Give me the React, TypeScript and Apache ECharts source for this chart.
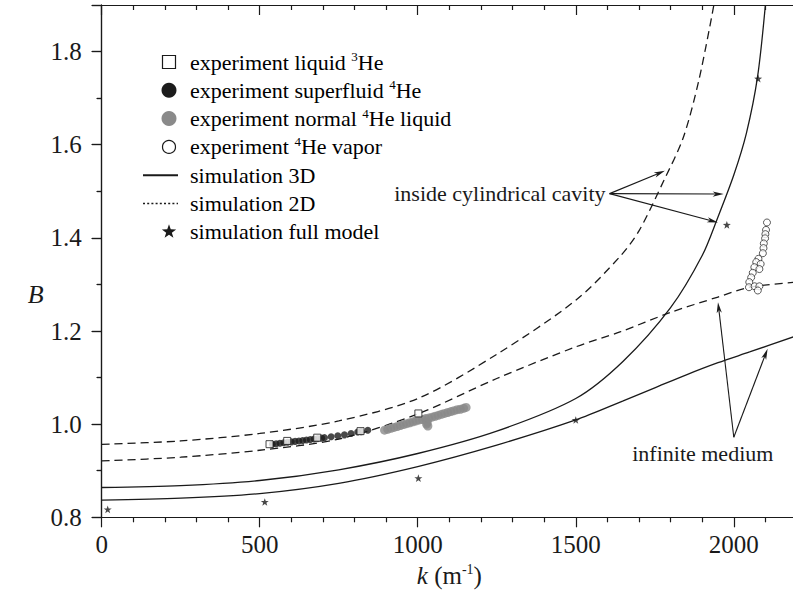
import React, { useEffect, useRef } from 'react';
import * as echarts from 'echarts';

// ---------- data ----------
const kInterval = 500;
const bInterval = 0.2;

// simulation 3D, inside cylindrical cavity (solid, steep)
const sim3DCavity: [number, number][] = [
  [0, 0.864], [250, 0.868], [500, 0.879], [750, 0.902], [1000, 0.937], [1250, 0.985],
  [1500, 1.055], [1650, 1.135], [1800, 1.25], [1900, 1.362], [1950, 1.445], [2000, 1.535],
  [2040, 1.625], [2075, 1.745], [2100, 1.9],
];
// simulation 3D, infinite medium (solid, lower)
const sim3DInfinite: [number, number][] = [
  [0, 0.837], [250, 0.841], [500, 0.851], [750, 0.873], [1000, 0.909], [1250, 0.955],
  [1500, 1.009], [1650, 1.05], [1750, 1.078], [1850, 1.106], [1950, 1.132], [2050, 1.155], [2200, 1.19],
];
// simulation 2D, inside cylindrical cavity (dashed, steep)
const sim2DCavity: [number, number][] = [
  [0, 0.9565], [250, 0.964], [500, 0.98], [750, 1.007], [1000, 1.055], [1250, 1.15],
  [1500, 1.266], [1640, 1.36], [1700, 1.415], [1780, 1.525], [1840, 1.615], [1890, 1.74], [1937, 1.9],
];
// simulation 2D, infinite medium (dashed, lower)
const sim2DInfinite: [number, number][] = [
  [0, 0.921], [250, 0.929], [500, 0.944], [750, 0.968], [1000, 1.022], [1250, 1.098],
  [1500, 1.166], [1640, 1.198], [1800, 1.24], [1950, 1.273], [2050, 1.294], [2200, 1.305],
];
const fullModel: [number, number][] = [
  [19, 0.817], [516, 0.833], [1002, 0.884], [1500, 1.009], [1978, 1.428], [2077, 1.742],
];
const liquid3He: [number, number][] = [
  [531, 0.957], [587, 0.964], [682, 0.971], [819, 0.985], [1002, 1.023],
];
const superfluid4He: [number, number][] = [
  [540, 0.957], [552, 0.958], [564, 0.959], [576, 0.96], [588, 0.961], [600, 0.962], [612, 0.963],
  [624, 0.964], [636, 0.965], [648, 0.966], [660, 0.967], [672, 0.968], [684, 0.969], [696, 0.97],
  [705, 0.971], [726, 0.973], [747, 0.975], [768, 0.977], [789, 0.98], [810, 0.983], [821, 0.984], [842, 0.987],
];
const normal4He: [number, number][] = [
  [895, 0.987], [905, 0.989], [915, 0.991], [925, 0.993], [935, 0.995], [945, 0.997], [955, 0.999],
  [965, 1.001], [975, 1.003], [985, 1.005], [995, 1.007], [1005, 1.009], [1015, 1.01], [1025, 1.012],
  [1028, 1.0], [1032, 0.996], [1030, 1.004], [1035, 1.013], [1045, 1.015], [1055, 1.017], [1065, 1.019],
  [1075, 1.021], [1085, 1.023], [1095, 1.025], [1105, 1.027], [1115, 1.029], [1125, 1.031], [1135, 1.032],
  [1145, 1.034], [1153, 1.036],
];
const vapor4He: [number, number][] = [
  [2105, 1.433], [2102, 1.417], [2100, 1.408], [2099, 1.399], [2095, 1.388], [2094, 1.378], [2092, 1.367],
  [2078, 1.355], [2071, 1.348], [2085, 1.344], [2065, 1.337], [2081, 1.333], [2060, 1.325], [2055, 1.315],
  [2049, 1.305], [2048, 1.294], [2066, 1.296], [2081, 1.296], [2076, 1.287],
];

// annotation arrows in data coordinates: [fromK, fromB, toK, toB]
const cavityArrows: number[][] = [
  [1607, 1.495, 1782, 1.544], [1607, 1.495, 1968, 1.494], [1607, 1.495, 1950, 1.433],
];
const infiniteArrows: number[][] = [
  [2000, 0.972, 1950, 1.262], [2000, 0.972, 2107, 1.162],
];

const legendRows = [
  { kind: 'square', text: '{a|experiment liquid }{s|3}{a|He}' },
  { kind: 'black', text: '{a|experiment superfluid }{s|4}{a|He}' },
  { kind: 'gray', text: '{a|experiment normal }{s|4}{a|He liquid}' },
  { kind: 'open', text: '{a|experiment }{s|4}{a|He vapor}' },
  { kind: 'line', text: '{a|simulation 3D}' },
  { kind: 'dotted', text: '{a|simulation 2D}' },
  { kind: 'star', text: '{a|simulation full model}' },
];

// ---------- styles ----------
const FONT = 'Liberation Serif';
const INK = '#1a1a1a';
const K_MIN = 0, K_MAX = 2200, B_MIN = 0.8, B_MAX = 1.9;
const STAR = 'path://M0,-10 L2.35,-3.24 L9.51,-3.09 L3.8,1.24 L5.88,8.09 L0,4 L-5.88,8.09 L-3.8,1.24 L-9.51,-3.09 L-2.35,-3.24 Z';
const rich = {
  a: { fontFamily: FONT, fontSize: 22, color: INK, lineHeight: 24 },
  s: { fontFamily: FONT, fontSize: 13, color: INK, lineHeight: 13, verticalAlign: 'top' },
};

function starPoints(cx: number, cy: number, R: number, r: number) {
  const pts: number[][] = [];
  for (let i = 0; i < 10; i++) {
    const ang = -Math.PI / 2 + (i * Math.PI) / 5;
    const rad = i % 2 === 0 ? R : r;
    pts.push([cx + rad * Math.cos(ang), cy + rad * Math.sin(ang)]);
  }
  return pts;
}

function arrowGraphics(p0: number[], p1: number[]) {
  const dx = p1[0] - p0[0];
  const dy = p1[1] - p0[1];
  const len = Math.hypot(dx, dy);
  const ux = dx / len, uy = dy / len;
  const nx = -uy, ny = ux;
  const L = 11, w = 2.6, notch = 3;
  const base = [p1[0] - L * ux, p1[1] - L * uy];
  return [
    { type: 'line', shape: { x1: p0[0], y1: p0[1], x2: p1[0] - 5 * ux, y2: p1[1] - 5 * uy }, style: { stroke: INK, lineWidth: 1.1 }, silent: true },
    {
      type: 'polygon',
      shape: {
        points: [
          [p1[0], p1[1]],
          [base[0] + w * nx, base[1] + w * ny],
          [p1[0] - (L - notch) * ux, p1[1] - (L - notch) * uy],
          [base[0] - w * nx, base[1] - w * ny],
        ],
      },
      style: { fill: INK },
      silent: true,
    },
  ];
}

const isMultiple = (v: number, start: number, step: number) => Math.abs((v - start) / step - Math.round((v - start) / step)) < 1e-6;
const tickFont = { fontFamily: FONT, fontSize: 25, color: INK };

function makeAxis(kind: 'x' | 'y', position: string, labels: boolean) {
  const isX = kind === 'x';
  const ax: any = {
    type: 'value',
    position,
    min: isX ? K_MIN : B_MIN,
    max: isX ? K_MAX : B_MAX,
    interval: isX ? kInterval : bInterval,
    axisLine: { show: true, lineStyle: { color: INK, width: 1.2 } },
    axisTick: { show: true, inside: !labels, length: 10, lineStyle: { color: INK, width: 1.2 } },
    minorTick: { show: true, splitNumber: isX ? 5 : 2, length: 5, lineStyle: { color: INK, width: 1.2 } },
    splitLine: { show: false },
    minorSplitLine: { show: false },
    axisLabel: labels
      ? {
          show: true,
          margin: isX ? 15 : 20,
          ...tickFont,
          formatter: (v: number) =>
            isX ? (isMultiple(v, 0, kInterval) ? String(v) : '') : isMultiple(v, B_MIN, bInterval) ? v.toFixed(1) : '',
        }
      : { show: false },
  };
  return ax;
}

export default function App() {
  const ref = useRef<HTMLDivElement>(null);
  useEffect(() => {
    const chart = echarts.init(ref.current!, null, { renderer: 'svg' });
    const lineBase = { type: 'line', symbol: 'none', smooth: 0.3, clip: true, z: 2 } as any;
    const xBottom = makeAxis('x', 'bottom', true);
    xBottom.name = '{i|k}{n| (m}{s|-1}{n|)}';
    xBottom.nameLocation = 'middle';
    xBottom.nameGap = 42;
    xBottom.nameTextStyle = {
      rich: {
        i: { fontFamily: FONT, fontSize: 25, fontStyle: 'italic', color: INK, lineHeight: 26 },
        n: { fontFamily: FONT, fontSize: 25, color: INK, lineHeight: 26 },
        s: { fontFamily: FONT, fontSize: 14, color: INK, lineHeight: 14, verticalAlign: 'top' },
      },
    };
    const yLeft = makeAxis('y', 'left', true);
    yLeft.name = '{b|B}';
    yLeft.nameLocation = 'middle';
    yLeft.nameGap = 58;
    yLeft.nameRotate = 0;
    yLeft.nameTextStyle = {
      rich: { b: { fontFamily: FONT, fontSize: 26, fontStyle: 'italic', color: INK, lineHeight: 26, padding: [66, 0, 0, 0] } },
    };

    chart.setOption({
      animation: false,
      backgroundColor: '#ffffff',
      grid: { left: 101.7, top: 5, right: 1.6, bottom: 78.7, containLabel: false },
      xAxis: [xBottom, makeAxis('x', 'top', false)],
      yAxis: [yLeft, makeAxis('y', 'right', false)],
      series: [
        { ...lineBase, name: 'simulation 3D cavity', data: sim3DCavity, lineStyle: { color: INK, width: 1.3 } },
        { ...lineBase, name: 'simulation 3D infinite', data: sim3DInfinite, lineStyle: { color: INK, width: 1.3 } },
        { ...lineBase, name: 'simulation 2D cavity', data: sim2DCavity, lineStyle: { color: INK, width: 1.3, type: [8, 5] } },
        { ...lineBase, name: 'simulation 2D infinite', data: sim2DInfinite, lineStyle: { color: INK, width: 1.3, type: [8, 5] } },
        { type: 'scatter', name: 'experiment normal 4He liquid', data: normal4He, symbol: 'circle', symbolSize: 9, itemStyle: { color: '#8a8a8a' }, z: 3 },
        { type: 'scatter', name: 'experiment superfluid 4He', data: superfluid4He, symbol: 'circle', symbolSize: 7, itemStyle: { color: '#1c1c1c' }, z: 3 },
        { type: 'scatter', name: 'experiment liquid 3He', data: liquid3He, symbol: 'rect', symbolSize: 7, itemStyle: { color: '#ffffff', borderColor: INK, borderWidth: 1 }, z: 4 },
        { type: 'scatter', name: 'experiment 4He vapor', data: vapor4He, symbol: 'circle', symbolSize: 7, itemStyle: { color: '#ffffff', borderColor: INK, borderWidth: 0.9 }, z: 4 },
        { type: 'scatter', name: 'simulation full model', data: fullModel, symbol: STAR, symbolKeepAspect: true, symbolSize: 8, itemStyle: { color: INK }, z: 5 },
      ],
    });

    const toPx = (k: number, b: number) => chart.convertToPixel({ seriesIndex: 0 }, [k, b]) as number[];
    const graphics: any[] = [];
    cavityArrows.forEach((a) => graphics.push(...arrowGraphics(toPx(a[0], a[1]), toPx(a[2], a[3]))));
    infiniteArrows.forEach((a) => graphics.push(...arrowGraphics(toPx(a[0], a[1]), toPx(a[2], a[3]))));
    const cavOrigin = toPx(cavityArrows[0][0], cavityArrows[0][1]);
    graphics.push({
      type: 'text', x: cavOrigin[0] - 4, y: cavOrigin[1], silent: true,
      style: { text: 'inside cylindrical cavity', fontFamily: FONT, fontSize: 22, fill: INK, align: 'right', verticalAlign: 'middle' },
    });
    const infOrigin = toPx(infiniteArrows[0][0], infiniteArrows[0][1]);
    graphics.push({
      type: 'text', x: infOrigin[0] - 31, y: infOrigin[1] + 16, silent: true,
      style: { text: 'infinite medium', fontFamily: FONT, fontSize: 22, fill: INK, align: 'center', verticalAlign: 'middle' },
    });
    const mx = 169, tx = 190, y0 = 62, dy = 28.3;
    legendRows.forEach((row, i) => {
      const y = y0 + i * dy;
      if (row.kind === 'square') graphics.push({ type: 'rect', shape: { x: mx - 6.5, y: y - 6.5, width: 13, height: 13 }, style: { fill: '#fff', stroke: INK, lineWidth: 1.2 } });
      if (row.kind === 'black') graphics.push({ type: 'circle', shape: { cx: mx, cy: y, r: 7.5 }, style: { fill: '#1c1c1c' } });
      if (row.kind === 'gray') graphics.push({ type: 'circle', shape: { cx: mx, cy: y, r: 7.5 }, style: { fill: '#8a8a8a' } });
      if (row.kind === 'open') graphics.push({ type: 'circle', shape: { cx: mx, cy: y, r: 6.5 }, style: { fill: '#fff', stroke: INK, lineWidth: 1.2 } });
      if (row.kind === 'line') graphics.push({ type: 'line', shape: { x1: 143, y1: y, x2: 178, y2: y }, style: { stroke: INK, lineWidth: 2 } });
      if (row.kind === 'dotted') graphics.push({ type: 'line', shape: { x1: 143, y1: y, x2: 178, y2: y }, style: { stroke: INK, lineWidth: 1.5, lineDash: [2, 2.2] } });
      if (row.kind === 'star') graphics.push({ type: 'polygon', shape: { points: starPoints(mx, y, 7.5, 3) }, style: { fill: INK } });
      graphics.push({ type: 'text', x: tx, y, silent: true, style: { text: row.text, rich, align: 'left', verticalAlign: 'middle' } });
    });
    chart.setOption({ graphic: graphics });
    return () => chart.dispose();
  }, []);
  return (
    <div style={{ position: 'fixed', left: 0, top: 0, width: 793, height: 596, overflow: 'hidden', background: '#fff' }}>
      <div ref={ref} style={{ width: 800, height: 596 }} />
    </div>
  );
}
